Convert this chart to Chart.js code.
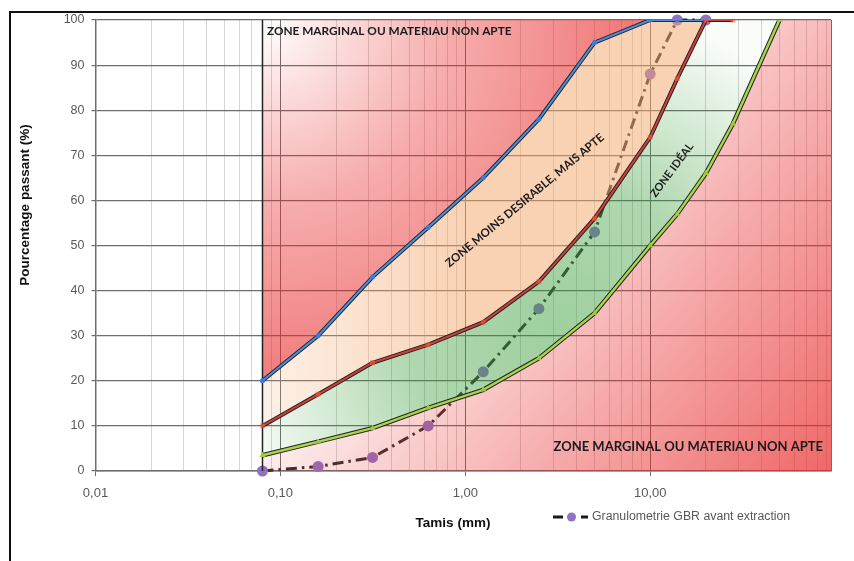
<!DOCTYPE html>
<html>
<head>
<meta charset="utf-8">
<script src="https://cdn.jsdelivr.net/npm/chart.js@4.4.1/dist/chart.umd.min.js"></script>
<style>
  html, body { margin: 0; padding: 0; background: #fff; }
  #wrap { position: relative; width: 854px; height: 561px; overflow: hidden; }
  #cadre { position: absolute; left: 9px; top: 11px; width: 900px; height: 600px; border-top: 2.5px solid #111; border-left: 2.5px solid #111; }
  #chart { position: absolute; left: 0; top: 0; }
</style>
</head>
<body>
<div id="wrap">
  <div id="cadre"></div>
  <canvas id="chart" width="854" height="561"></canvas>
</div>
<script>
// Tamis (mm) et pourcentages passants
const tamisGBR = [0.08, 0.16, 0.315, 0.63, 1.25, 2.5, 5, 10, 14, 20];
const passantGBR = [0, 1, 3, 10, 22, 36, 53, 88, 100, 100];

// limite haute de la zone moins desirable
const tamisHaut = [0.08, 0.16, 0.315, 0.63, 1.25, 2.5, 5, 10, 14, 20];
const fuseauHaut = [20, 30, 43, 54, 65, 78, 95, 100, 100, 100];

// limite entre zone moins desirable et zone ideale
const tamisMilieu = [0.08, 0.16, 0.315, 0.63, 1.25, 2.5, 5, 10, 14, 20, 28];
const fuseauMilieu = [10, 17, 24, 28, 33, 42, 56, 74, 87, 100, 100];

// limite basse de la zone ideale
const tamisBas = [0.08, 0.16, 0.315, 0.63, 1.25, 2.5, 5, 10, 14, 20, 28, 50];
const fuseauBas = [3.5, 6.5, 9.5, 14, 18, 25, 35, 50, 57, 66, 77, 100];

// graduations de l'axe des tamis
const xMajors = [0.01, 0.1, 1, 10];
const xLabels = ['0,01', '0,10', '1,00', '10,00'];
const xMin = 0.01, xMax = 95;

const pts = (xs, ys) => xs.map((x, i) => ({x: x, y: ys[i]}));
const isPow10 = v => Math.abs(Math.log10(v) - Math.round(Math.log10(v))) < 1e-6;

// degrades des zones (calcules sur les echelles)
function radial(c, px, py, r, stops) {
  const g = c.ctx.createRadialGradient(px, py, 0, px, py, r);
  stops.forEach(s => g.addColorStop(s[0], s[1]));
  return g;
}
function lineaire(c, x0, y0, x1, y1, stops) {
  const g = c.ctx.createLinearGradient(x0, y0, x1, y1);
  stops.forEach(s => g.addColorStop(s[0], s[1]));
  return g;
}

const fondRougeHaut = ctx => {
  const c = ctx.chart;
  if (!c.chartArea) return 'transparent';
  const sx = c.scales.x, sy = c.scales.y;
  return radial(c, sx.getPixelForValue(tamisHaut[0]), sy.getPixelForValue(100), 370,
    [[0, 'rgba(232,40,40,0)'], [0.5, 'rgba(232,40,40,0.38)'], [1, 'rgba(232,40,40,0.62)']]);
};
const fondPeche = ctx => {
  const c = ctx.chart;
  if (!c.chartArea) return 'transparent';
  const sx = c.scales.x;
  return lineaire(c, sx.getPixelForValue(tamisHaut[0]), 0, sx.getPixelForValue(1), 0,
    [[0, 'rgba(244,165,105,0.16)'], [1, 'rgba(244,165,105,0.5)']]);
};
const fondVert = ctx => {
  const c = ctx.chart;
  if (!c.chartArea) return 'transparent';
  const sx = c.scales.x, sy = c.scales.y;
  return radial(c, sx.getPixelForValue(3.2), sy.getPixelForValue(31), 330,
    [[0, 'rgba(55,155,55,0.48)'], [0.45, 'rgba(55,155,55,0.4)'], [1, 'rgba(55,155,55,0.03)']]);
};
const fondRougeBas = ctx => {
  const c = ctx.chart;
  if (!c.chartArea) return 'transparent';
  const sx = c.scales.x, sy = c.scales.y;
  return lineaire(c, sx.getPixelForValue(tamisBas[0]), sy.getPixelForValue(100), sx.getPixelForValue(xMax), sy.getPixelForValue(0),
    [[0, 'rgba(232,40,40,0)'], [0.35, 'rgba(232,40,40,0.06)'], [0.6, 'rgba(232,40,40,0.3)'], [1, 'rgba(232,40,40,0.7)']]);
};

const zone = (data, fill, bg, order) => ({
  data: data, fill: fill, backgroundColor: bg, borderWidth: 0, pointRadius: 0, order: order
});

const datasets = [
  // 0 : courbe GBR, dessinee sous les zones
  {
    label: 'Granulometrie GBR avant extraction',
    data: pts(tamisGBR, passantGBR),
    borderColor: '#2e2e2e', borderWidth: 3, borderDash: [11, 5, 2.5, 5],
    pointRadius: 5.5, pointBackgroundColor: '#8f72c4', pointBorderWidth: 0,
    fill: false, clip: false, order: 20
  },
  // 1..4 : zones colorees
  zone(pts(tamisHaut, fuseauHaut), 'end', fondRougeHaut, 19),
  zone(pts(tamisHaut, fuseauHaut), 3, fondPeche, 18),
  zone(pts(tamisMilieu, fuseauMilieu).concat([{x: tamisBas[tamisBas.length - 1], y: 100}]), 4, fondVert, 17),
  zone(pts(tamisBas, fuseauBas).concat([{x: xMax, y: 100}]), 'start', fondRougeBas, 16),
  // 5 : bord gauche des zones
  {
    data: [{x: tamisHaut[0], y: 0}, {x: tamisHaut[0], y: 100}],
    borderColor: '#222', borderWidth: 1.5, pointRadius: 0, fill: false, order: 15
  },
  // 6..11 : limites des fuseaux (ombre + trait)
  {data: pts(tamisHaut, fuseauHaut), borderColor: '#1d2b3c', borderWidth: 4, pointRadius: 0, fill: false, order: 14},
  {data: pts(tamisHaut, fuseauHaut), borderColor: '#4f8ed0', borderWidth: 2, pointRadius: 2.5,
   pointBackgroundColor: '#3b7dd8', pointBorderWidth: 0, fill: false, order: 13},
  {data: pts(tamisMilieu, fuseauMilieu), borderColor: '#2a2222', borderWidth: 4, pointRadius: 0, fill: false, order: 12},
  {data: pts(tamisMilieu, fuseauMilieu), borderColor: '#c8413a', borderWidth: 2, pointRadius: 3.5, pointStyle: 'rect',
   pointBackgroundColor: 'rgba(235,95,60,0.6)', pointBorderWidth: 0, fill: false, order: 11},
  {data: pts(tamisBas, fuseauBas), borderColor: '#222', borderWidth: 4.5, pointRadius: 0, fill: false, order: 10},
  {data: pts(tamisBas, fuseauBas), borderColor: '#a8d44c', borderWidth: 2.5, pointRadius: 3.5, pointStyle: 'triangle',
   pointBackgroundColor: '#9cc83c', pointBorderWidth: 0, fill: false, order: 9}
];

// textes des zones, ancres en coordonnees du graphique
const zonesTextes = [
  {text: 'ZONE MARGINAL OU MATERIAU NON APTE', x: 0.08, y: 100, dx: 4.5, dy: 14.5, rot: 0, size: 11.8, align: 'left', base: 'alphabetic'},
  {text: 'ZONE MARGINAL OU MATERIAU NON APTE', x: 3.0, y: 4.5, dx: 0, dy: 0, rot: 0, size: 13, align: 'left', base: 'alphabetic'},
  {text: 'ZONE MOINS DESIRABLE, MAIS APTE', x: 2.1, y: 60, dx: 0, dy: 0, rot: -39.7, size: 11.5, align: 'center', base: 'middle'},
  {text: 'ZONE IDÉAL', x: 13.1, y: 66.7, dx: 0, dy: 0, rot: -53.5, size: 11, align: 'center', base: 'middle'}
];

const habillage = {
  id: 'habillage',
  afterDraw(chart) {
    const {ctx, scales: {x, y}} = chart;
    ctx.save();
    zonesTextes.forEach(z => {
      ctx.save();
      ctx.translate(x.getPixelForValue(z.x) + z.dx, y.getPixelForValue(z.y) + z.dy);
      ctx.rotate(z.rot * Math.PI / 180);
      ctx.font = 'bold ' + z.size + 'px Lato';
      ctx.fillStyle = '#1b1b1b';
      ctx.textAlign = z.align;
      ctx.textBaseline = z.base;
      ctx.fillText(z.text, 0, 0);
      ctx.restore();
    });

    // titres des axes
    ctx.fillStyle = '#111';
    ctx.font = 'bold 13.5px "Liberation Sans", Arial';
    ctx.textAlign = 'center';
    ctx.textBaseline = 'middle';
    ctx.fillText('Tamis (mm)', 453, 523.5);
    ctx.save();
    ctx.translate(25, 205);
    ctx.rotate(-Math.PI / 2);
    ctx.fillText('Pourcentage passant (%)', 0, 0);
    ctx.restore();

    // legende (serie GBR seulement)
    const ds = chart.data.datasets[0];
    const ly = 517;
    ctx.strokeStyle = '#1a1a1a';
    ctx.lineWidth = ds.borderWidth;
    ctx.setLineDash([10, 18]);
    ctx.beginPath();
    ctx.moveTo(553, ly);
    ctx.lineTo(588, ly);
    ctx.stroke();
    ctx.setLineDash([]);
    ctx.fillStyle = ds.pointBackgroundColor;
    ctx.beginPath();
    ctx.arc(571.5, ly, 4.5, 0, Math.PI * 2);
    ctx.fill();
    ctx.fillStyle = '#595959';
    ctx.font = '12.3px "Liberation Sans", Arial';
    ctx.textAlign = 'left';
    ctx.fillText(ds.label, 592, ly);
    ctx.restore();
  }
};

new Chart(document.getElementById('chart'), {
  type: 'line',
  data: {datasets: datasets},
  plugins: [habillage],
  options: {
    responsive: false,
    animation: false,
    layout: {padding: {top: 20, right: 23, left: 0, bottom: 0}},
    plugins: {
      legend: {display: false},
      tooltip: {enabled: false},
      filler: {propagate: false}
    },
    elements: {line: {tension: 0}},
    scales: {
      x: {
        type: 'logarithmic',
        min: xMin, max: xMax,
        afterFit: s => { s.height = 90; },
        afterBuildTicks: s => {
          s.ticks = s.ticks.filter(t => {
            if (t.value >= xMax) return true;
            const m = t.value / Math.pow(10, Math.floor(Math.log10(t.value) + 1e-9));
            return Math.abs(m - Math.round(m)) < 1e-6;
          });
        },
        ticks: {
          autoSkip: false, maxRotation: 0, padding: 10,
          color: '#595959', font: {family: '"Liberation Sans", Arial', size: 13},
          callback: v => {
            const i = xMajors.findIndex(m => Math.abs(m - v) < m * 1e-6);
            return i >= 0 ? xLabels[i] : '';
          }
        },
        grid: {
          color: c => (isPow10(c.tick.value) || c.tick.value >= xMax) ? '#6e6e6e' : '#d6d6d6',
          tickColor: c => isPow10(c.tick.value) ? '#6e6e6e' : 'rgba(0,0,0,0)',
          tickLength: 5, lineWidth: 1
        },
        border: {color: '#6e6e6e', width: 1.5}
      },
      y: {
        min: 0, max: 100,
        afterFit: s => { s.width = 95.5; },
        ticks: {
          stepSize: 10, padding: 7,
          color: '#595959', font: {family: '"Liberation Sans", Arial', size: 12.5}
        },
        grid: {color: '#6e6e6e', lineWidth: 1.2, tickLength: 4, tickColor: '#6e6e6e'},
        border: {color: '#6e6e6e', width: 1.5}
      }
    }
  }
});
</script>
</body>
</html>
